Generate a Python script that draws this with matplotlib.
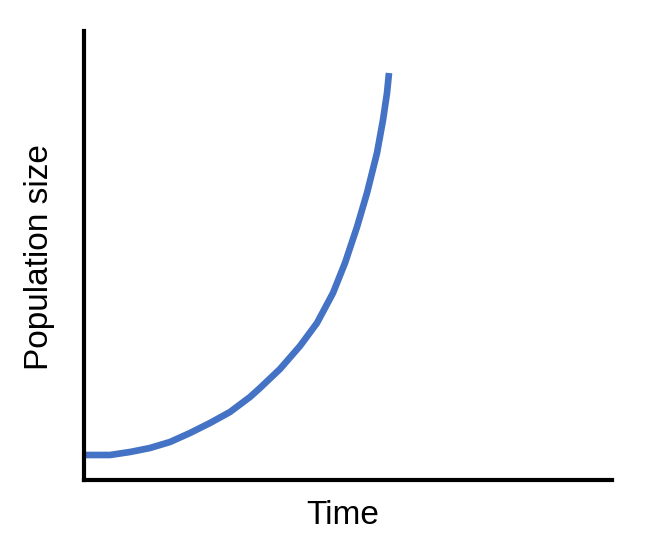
import matplotlib
matplotlib.use("Agg")
import matplotlib.pyplot as plt

# curve points (arbitrary units)
time = [0, 26, 46, 66, 86, 106, 126, 146, 166, 176, 196, 216, 233, 249,
        261, 273, 283, 293, 299, 303, 305]
population = [25, 25, 28, 32, 38, 47, 57, 68, 83, 92, 111, 134, 157, 187,
              217, 253, 287, 327, 360, 387, 407]

LINE_COLOR = "#4472C4"

plt.rcParams["font.family"] = ["Liberation Sans", "DejaVu Sans"]

fig = plt.figure(figsize=(6.6, 5.52), dpi=100)
ax = fig.add_axes([84 / 660, 72 / 552, 528 / 660, 449 / 552])

ax.plot(time, population, color=LINE_COLOR, linewidth=4.8,
        solid_capstyle="butt", solid_joinstyle="round")

ax.set_xlim(0, 528)
ax.set_ylim(0, 449)
ax.set_xticks([])
ax.set_yticks([])

for side in ["top", "right"]:
    ax.spines[side].set_visible(False)
for side in ["left", "bottom"]:
    ax.spines[side].set_linewidth(3)
    ax.spines[side].set_color("black")

fig.text(343 / 660, 1 - 515 / 552, "Time", fontsize=24,
         ha="center", va="center")
fig.text(40 / 660, 1 - 257 / 552, "Population size", fontsize=24,
         rotation=90, ha="center", va="center")

fig.savefig("out.png", dpi=100)
plt.close(fig)
